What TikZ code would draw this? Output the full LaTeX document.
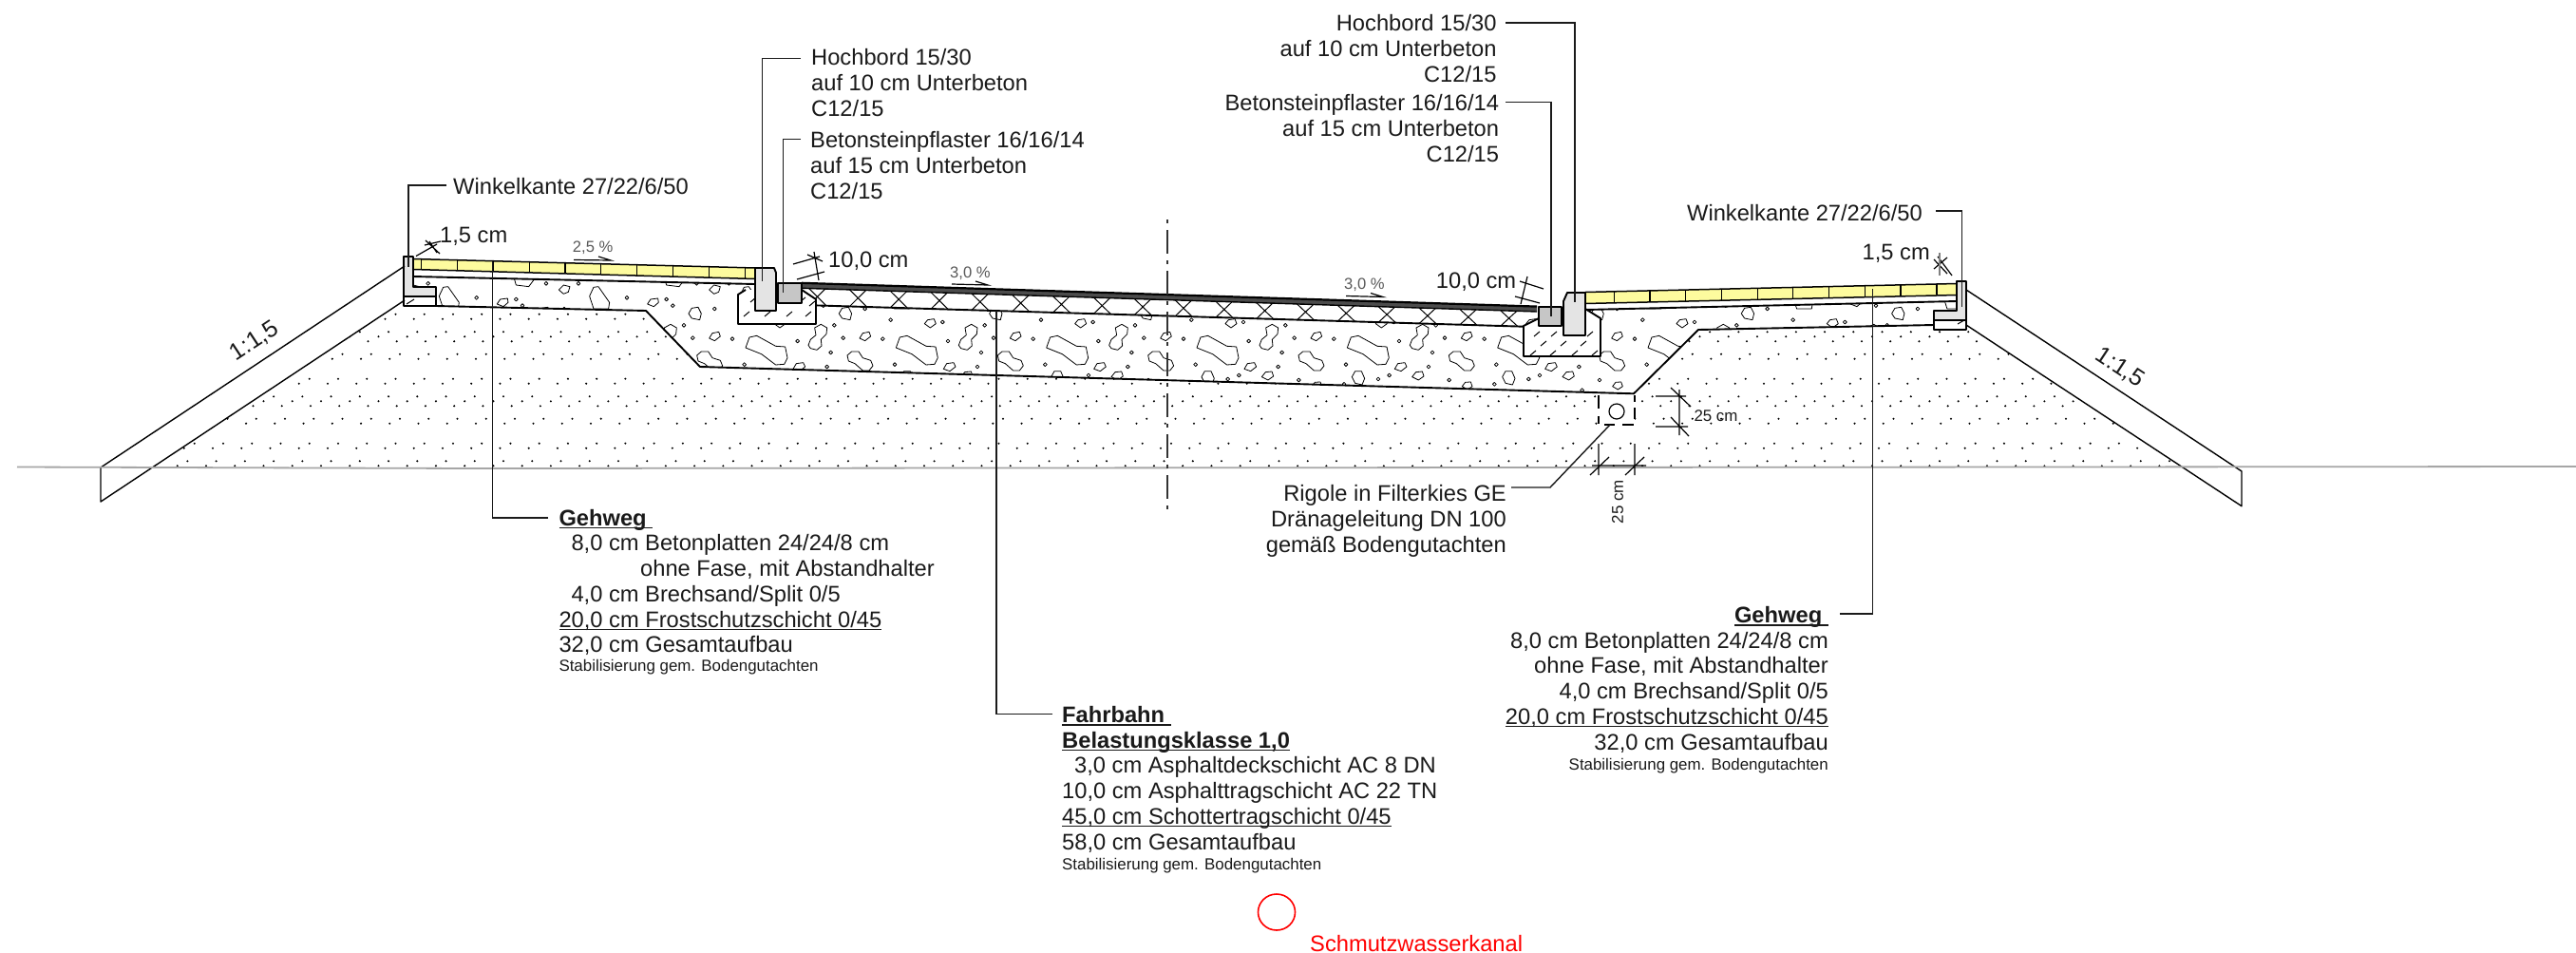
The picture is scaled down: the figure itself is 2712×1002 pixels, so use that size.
\documentclass[tikz,border=0pt]{standalone}
\usepackage{fontspec}
\usetikzlibrary{shapes.geometric}
\setmainfont{Liberation Sans}
\newcommand{\myul}[1]{\setbox0=\hbox{#1}\rlap{\rule[-3pt]{\wd0}{1.3pt}}\box0 }
\definecolor{paver}{HTML}{FDFB9E}
\definecolor{kerbgray}{HTML}{E4E4E4}
\definecolor{blockgray}{HTML}{C6C6C6}
\definecolor{ink}{HTML}{1A1A1A}
\tikzset{
  lbl/.style={inner sep=0pt,text=ink,font=\fontsize{23.7}{26.7}\selectfont},
  lblsmall/.style={inner sep=0pt,text=ink,font=\fontsize{16.9}{20}\selectfont},
  pct/.style={inner sep=0pt,text=black!65,font=\fontsize{16.6}{20}\selectfont},
  leader/.style={draw=ink,line width=1.4pt},
  layer/.style={draw=black,line width=1.9pt,line join=round},
  pave/.style={draw=black,line width=1.5pt,line join=round},
  thinl/.style={draw=black,line width=1.4pt},
  stone/.style={draw=black,line width=0.8pt,line join=round},
  dim/.style={draw=black,line width=1.2pt},
}
\newcommand{\stonedot}[1]{\draw[stone] #1 circle (1.9pt);}
\begin{document}
\begin{tikzpicture}[x=1pt,y=-1pt]
\useasboundingbox (0,0) rectangle (2712,1002);
\fill[white] (0,0) rectangle (2712,1002);

% ---------- soil dots
\begin{scope}
\clip (426,316) -- (160,492) -- (2297,492) -- (2070,342) -- (2070,347) -- (2036,347) -- (2036,342) -- (1788,347) -- (1720,414) -- (737,386) -- (680,327) -- (459,322) -- (426,322) -- cycle;
\fill[black] \foreach \rx/\ry in {446.7/330.7,435.7/335.7,439.3/349.3,428.7/354.3,417.7/359.3,421/372.7,410.3/377.7}{
  \foreach \j in {0,1,2}{ \foreach \k in {-10,...,62}{
    ({\rx+\k*30.24},{\ry+\j*68}) circle (1.15pt) }}};
\end{scope}

% ---------- gravel
\begin{scope}
\clip (435,291) -- (795,299) -- (795,305) -- (859,321.4) -- (1604,343.7) -- (1604,330) -- (1669,326) -- (2060,317) -- (2060,327) -- (2036,327) -- (2036,342) -- (1788,347) -- (1720,414.3) -- (737,386) -- (680,327) -- (459,322) -- (459,302) -- (435,302) -- cycle;
\foreach \i in {-4,...,8}{
\begin{scope}[shift={(880+\i*158.33,220)},x=0.3333pt,y=-0.3333pt]
  \draw[stone] (190,438)--(202,405)--(225,400)--(285,433)--(315,435)--(322,470)--(312,490)--(285,492)--(240,458)--cycle;
  \draw[stone] (388,430)--(395,412)--(412,398)--(408,375)--(428,364)--(447,375)--(445,395)--(428,412)--(430,432)--(415,445)--(395,440)--cycle;
  \draw[stone] (280,362)--(290,350)--(310,347)--(316,362)--(298,375)--cycle;
  \draw[stone] (75,408)--(85,392)--(105,388)--(110,402)--(92,416)--cycle;
  \draw[stone] (36,462)--(50,450)--(72,450)--(85,470)--(110,478)--(117,495)--(105,510)--(85,510)--(60,488)--(40,480)--cycle;
  \draw[stone] (340,505)--(350,488)--(372,485)--(378,498)--(360,512)--cycle;
  \foreach \p in {(173,350),(337,357),(470,367),(23,407),(148,410),(354,417),(459,453),(186,491),(447,498)}{\stonedot{\p}}
\end{scope}}
\foreach \i in {-2,...,10}{
\begin{scope}[shift={(380+\i*158.33,220)},x=0.3333pt,y=-0.3333pt]
  \draw[stone] (722,275)--(735,247)--(750,245)--(785,295)--(782,315)--(735,315)--cycle;
  \draw[stone] (625,255)--(640,240)--(660,245)--(655,262)--(640,268)--cycle;
  \draw[stone] (905,300)--(915,285)--(938,282)--(940,295)--(925,308)--cycle;
  \draw[stone] (1035,330)--(1045,313)--(1065,310)--(1075,330)--(1070,350)--(1045,345)--cycle;
  \draw[stone] (483,215)--(490,240)--(530,245)--(545,225);
  \foreach \p in {(212,235),(365,280),(490,285),(585,235),(510,305),(1117,315)}{\stonedot{\p}}
\end{scope}}
\foreach \i in {-7,...,5}{
\begin{scope}[shift={(1380+\i*158.33,220)},x=0.3333pt,y=-0.3333pt]
  \draw[stone] (130,530)--(140,512)--(160,512)--(170,535)--(162,555)--(140,550)--cycle;
  \draw[stone] (320,530)--(332,515)--(352,513)--(357,528)--(340,540)--cycle;
  \draw[stone] (478,560)--(488,547)--(505,546)--(510,560)--(495,570)--cycle;
  \foreach \p in {(213,537),(248,525),(437,540),(105,553),(382,572)}{\stonedot{\p}}
\end{scope}}
\end{scope}

% ---------- layer lines
\draw[layer] (459,322) -- (680,327) -- (737,386) -- (1720,414.3) -- (1788,347) -- (2036,342);
\draw[layer] (859,321.4) -- (1604,343.7);
\draw[layer] (435,291) -- (795,299);
\draw[layer] (1669,326) -- (2060,317);

% ---------- asphalt binder crosses
\begin{scope}
\clip (844,300) -- (1618,325) -- (1618,343.7) -- (1604,343.7) -- (859,321.4) -- cycle;
\foreach \k in {-1,...,16}{
  \pgfmathsetmacro{\cx}{903.3+\k*42.83}
  \pgfmathsetmacro{\ya}{299+(\cx-880)*0.032+5}
  \pgfmathsetmacro{\yb}{322+(\cx-880)*0.03}
  \draw[line width=1pt] ({\cx-9},\ya) -- ({\cx+9},\yb) ({\cx+9},\ya) -- ({\cx-9},\yb);
}
\end{scope}

% ---------- asphalt surface
\fill[black!70] (844,297.8) -- (1618,322.6) -- (1618,328) -- (844,303.3) -- cycle;
\draw[black,line width=2.2pt] (844,297.8) -- (1618,322.6);
\draw[black,line width=1.4pt] (844,303.3) -- (1618,328);

% ---------- pavers
\filldraw[fill=paver,pave] (435,272.5) -- (795,282) -- (795,293.5) -- (435,283.5) -- cycle;
\foreach \xj in {443.3,481.7,519.3,557.3,595,632.7,670.3,708.3,746.7,784.3}{
  \pgfmathsetmacro{\ya}{273+(\xj-435)*0.025}
  \pgfmathsetmacro{\yb}{283+(\xj-435)*0.0278}
  \draw[line width=1.1pt] (\xj,\ya) -- (\xj,\yb);
}
\filldraw[fill=paver,pave] (1669,307.5) -- (2060,298.5) -- (2060,310.5) -- (1669,319.5) -- cycle;
\foreach \xj in {1699.3,1737,1774.7,1812.4,1850.1,1887.8,1925.5,1963.2,2001,2039}{
  \pgfmathsetmacro{\ya}{308-(\xj-1669)*0.023}
  \pgfmathsetmacro{\yb}{319-(\xj-1669)*0.023}
  \draw[line width=1.1pt] (\xj,\ya) -- (\xj,\yb);
}

% ---------- kerb foundations (left and right)
\fill[white] (777,341) -- (859,341) -- (859,315) -- (844,305) -- (785,305) -- (777,310) -- cycle;
\draw[layer] (785,305) -- (777,310) -- (777,341) -- (859,341) -- (859,315) -- (844,305);
\foreach \x/\y in {783/333,805/333,828/333,848/333,790/318,842/318,852/322}{
  \draw[line width=1pt] (\x,\y) -- ({\x+6},{\y-5});
}
\fill[white] (1620,335) -- (1604,343) -- (1604,375) -- (1685,375) -- (1685,335) -- (1669,325) -- cycle;
\draw[layer] (1620,335) -- (1604,343) -- (1604,375) -- (1685,375) -- (1685,335) -- (1669,325);
\foreach \x in {1611,1632,1655,1676}{
  \draw[line width=1pt] (\x,374) -- ({\x+6},369);
}
\foreach \x in {1622,1643,1664}{
  \draw[line width=1pt] (\x,364) -- ({\x+6},359);
}
\foreach \x in {1615,1633,1671}{
  \draw[line width=1pt] (\x,354) -- ({\x+6},349);
}
% ---------- kerbs
\filldraw[fill=kerbgray,layer] (795,282) -- (815,282) -- (817,287) -- (817,327) -- (795,327) -- cycle;
\filldraw[fill=blockgray,layer] (819,298) rectangle (844,319);
\filldraw[fill=kerbgray,layer] (1650,308) -- (1669,308) -- (1669,353) -- (1646,353) -- (1646,317) -- cycle;
\filldraw[fill=blockgray,layer] (1620,323) rectangle (1644,343);

% ---------- angle kerbs
\filldraw[fill=white,layer] (425,312) rectangle (459,322);
\draw[line width=1pt] (428,320) -- (436,315);
\filldraw[fill=kerbgray,layer] (425,270) -- (435,270) -- (435,302) -- (459,302) -- (459,312) -- (425,312) -- cycle;
\filldraw[fill=white,layer] (2036,337) rectangle (2070,347);
\draw[line width=1pt] (2061,341) -- (2068,337);
\filldraw[fill=kerbgray,layer] (2070,296) -- (2060,296) -- (2060,327) -- (2036,327) -- (2036,337) -- (2070,337) -- cycle;

% ---------- slopes
\draw[thinl,line join=round] (426,280) -- (106,492) -- (106,528) -- (426,316);
\draw[thinl,line join=round] (2070,305) -- (2360,496) -- (2360,532.7) -- (2070,342);
\draw[black!35,line width=1.8pt] (18,491.5) -- (500,493) -- (2712,491);

% ---------- centre line
\draw[draw=black!80,line width=1.6pt,dash pattern=on 4pt off 7pt on 25pt off 7pt] (1229,231) -- (1229,540);

% ---------- rigole
\fill[white] (1683,416) rectangle (1721,447);
\draw[line width=1.5pt] (1683,416) -- (1683,430) (1683,438) -- (1683,446) (1721,416) -- (1721,423) (1721,429) -- (1721,441);
\draw[line width=1.7pt] (1689,447) -- (1700,447) (1708,447) -- (1720,447);
\node[draw=black,line width=1.2pt,circle,minimum size=16pt,inner sep=0pt] (rigolepipe) at (1702,433) {};

% ---------- dimension marks
\draw[dim] (438,269.5) -- (460,257) (447,258) -- (464,254) (448,253) -- (463,267) (452,254) -- (460,266);
\draw[dim] (835,278) -- (863,270) (839,294) -- (868,286) (857,265) -- (862,295) (850,268) -- (866,275);
\draw[dim] (1600,296) -- (1625,304) (1595,312) -- (1621,319) (1608,291) -- (1601,320);
\draw[dim] (2036,273) -- (2050,288) (2040,270) -- (2055,290) (2036,283) -- (2050,271);
\draw[draw=black!50,line width=1.2pt] (2042,266) -- (2042,290);
\draw[dim] (1743,417) -- (1775,417) (1743,449) -- (1777,449) (1768,410) -- (1768,458) (1759,408) -- (1780,428) (1759,439) -- (1778,459);
\draw[dim] (1683,467) -- (1683,500) (1721,467) -- (1721,500) (1676,490) -- (1733,490) (1674,500) -- (1694,481) (1711,500) -- (1731,481);

% ---------- slope arrows
\draw[line width=1.2pt] (604,273.5) -- (643,274) -- (630,270);
\draw[line width=1.2pt] (1002,299) -- (1040,300) -- (1027,296);
\draw[line width=1.2pt] (1417,311.5) -- (1456,312.5) -- (1443,308.5);

% ---------- labels
\node[lbl,anchor=base west] (wkl) at (477,204) {Winkelkante 27/22/6/50};
\node[lbl,anchor=base east] (wkr) at (2024,232) {Winkelkante 27/22/6/50};
\node[lbl,anchor=base west] (dimla) at (463,255) {1,5 cm};
\node[lbl,anchor=base west] (dimlb) at (872,281.7) {10,0 cm};
\node[lbl,anchor=base west] (dimrb) at (1511.7,303.3) {10,0 cm};
\node[lbl,anchor=base east] (dimra) at (2032,273) {1,5 cm};
\node[lbl,anchor=base west,align=left] (hbl) at (854,122.3) {Hochbord 15/30\\auf 10 cm Unterbeton\\C12/15};
\node[lbl,anchor=base west,align=left] (bsl) at (853,209) {Betonsteinpflaster 16/16/14\\auf 15 cm Unterbeton\\C12/15};
\node[lbl,anchor=base east,align=right] (hbr) at (1575.7,86) {Hochbord 15/30\\auf 10 cm Unterbeton\\C12/15};
\node[lbl,anchor=base east,align=right] (bsr) at (1578.3,170) {Betonsteinpflaster 16/16/14\\auf 15 cm Unterbeton\\C12/15};
\node[lbl,anchor=base east,align=right] (rig) at (1586,581) {Rigole in Filterkies GE\\Dränageleitung DN 100\\gemäß Bodengutachten};
\node[lbl,anchor=base west,align=left] (gwl) at (588.3,686.7) {\myul{\bfseries Gehweg\ }\\\hspace*{13pt}8,0 cm Betonplatten 24/24/8 cm\\\hspace*{85.7pt}ohne Fase, mit Abstandhalter\\\hspace*{13pt}4,0 cm Brechsand/Split 0/5\\\myul{20,0 cm Frostschutzschicht 0/45}\\32,0 cm Gesamtaufbau};
\node[lblsmall,anchor=base west] (gwls) at (588.3,706.7) {Stabilisierung gem. Bodengutachten};
\node[lbl,anchor=base east,align=right] (gwr) at (1925,789) {\myul{\bfseries Gehweg\ }\\8,0 cm Betonplatten 24/24/8 cm\\ohne Fase, mit Abstandhalter\\4,0 cm Brechsand/Split 0/5\\\myul{20,0 cm Frostschutzschicht 0/45}\\32,0 cm Gesamtaufbau};
\node[lblsmall,anchor=base east] (gwrs) at (1925,810) {Stabilisierung gem. Bodengutachten};
\node[lbl,anchor=base west,align=left] (fb) at (1118,894) {\myul{\bfseries Fahrbahn\ }\\\myul{\bfseries Belastungsklasse 1,0}\\\hspace*{13pt}3,0 cm Asphaltdeckschicht AC 8 DN\\10,0 cm Asphalttragschicht AC 22 TN\\\myul{45,0 cm Schottertragschicht 0/45}\\58,0 cm Gesamtaufbau};
\node[lblsmall,anchor=base west] (fbs) at (1118,915) {Stabilisierung gem. Bodengutachten};
\node[lbl,anchor=base west,text=red] (swk) at (1379,1001) {Schmutzwasserkanal};
\node[draw=red,line width=1.6pt,ellipse,minimum width=39pt,minimum height=38pt,inner sep=0pt] (swkc) at (1344,960) {};
\node[pct,anchor=base west] (pa) at (602.7,265.7) {2,5 \%};
\node[pct,anchor=base west] (pb) at (1000,292.3) {3,0 \%};
\node[pct,anchor=base west] (pc) at (1415,304) {3,0 \%};
\node[inner sep=0pt,text=ink,font=\fontsize{25}{28}\selectfont,rotate=33.4] (slopel) at (268,359) {1:1,5};
\node[inner sep=0pt,text=ink,font=\fontsize{25}{28}\selectfont,rotate=-33.4] (sloper) at (2232,387) {1:1,5};
\node[lblsmall,anchor=base west] (da) at (1783.3,443.3) {25 cm};
\node[lblsmall,rotate=90] (db) at (1703,528) {25 cm};

% ---------- leaders
\coordinate (wklA) at (470,195);   \coordinate (wklB) at (430,281);
\coordinate (hblA) at (843,61.7);  \coordinate (hblB) at (802.7,296);
\coordinate (bslA) at (843,146.7); \coordinate (bslB) at (824.7,308);
\coordinate (gwlA) at (577,545);   \coordinate (gwlB) at (518.5,275);
\coordinate (fbA)  at (1108,751.7);\coordinate (fbB)  at (1049,327);
\coordinate (gwrA) at (1937,646);  \coordinate (gwrB) at (1971.5,304);
\coordinate (hbrA) at (1585,24);   \coordinate (hbrB) at (1658,318);
\coordinate (bsrA) at (1585,107.5);\coordinate (bsrB) at (1633,333);
\coordinate (wkrA) at (2038,222);  \coordinate (wkrB) at (2065.7,323);
\coordinate (rigA) at (1591,513);  \coordinate (rigB) at (1632,513); \coordinate (rigC) at (1695,447);
\foreach \a/\b in {wklA/wklB,hblA/hblB,bslA/bslB,gwlA/gwlB,fbA/fbB,gwrA/gwrB,hbrA/hbrB,bsrA/bsrB,wkrA/wkrB}{
  \draw[leader] (\a) -| (\b);
}
\draw[leader] (rigA) -- (rigB) -- (rigC);
\end{tikzpicture}
\end{document}
